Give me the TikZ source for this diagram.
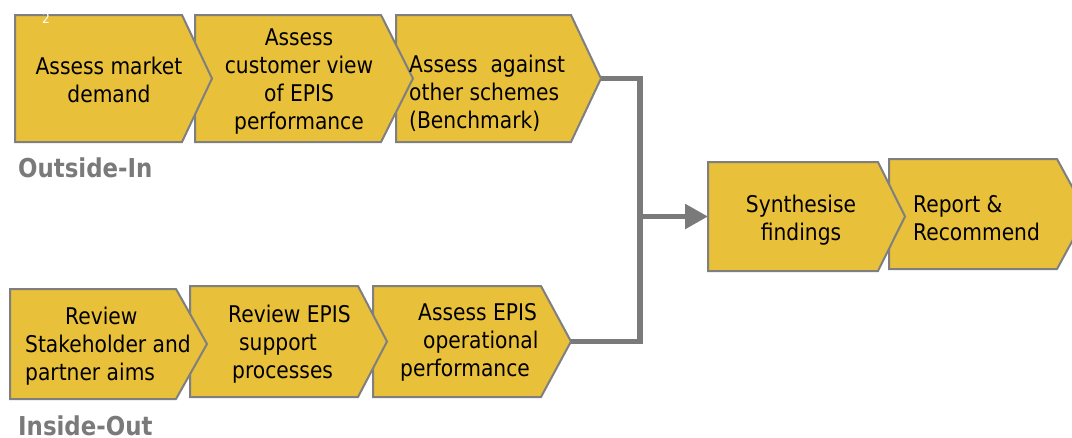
\documentclass[tikz,border=0pt]{standalone}
\usepackage{fontspec}
\setmainfont{DejaVu Sans}[FakeStretch=0.88]
\usetikzlibrary{arrows.meta}
\definecolor{boxfill}{RGB}{233,192,58}
\definecolor{edgegray}{RGB}{127,127,127}
\definecolor{linegray}{RGB}{122,122,122}
\newcommand\penta[6]{%
  \draw[boxshape] (#2,#3) -- (#5,#3) -- (#6,{(#3+#4)/2}) -- (#5,#4) -- (#2,#4) -- cycle;
  \coordinate (#1) at (#6,{(#3+#4)/2});
  \coordinate (#1-w) at (#2,{(#3+#4)/2});}
\newcommand\fl{\rule{0pt}{18pt}}
\tikzset{
  boxshape/.style={fill=boxfill, draw=edgegray, line width=2pt, line join=miter},
  conn/.style={draw=linegray, line width=5.5pt, line join=miter},
  txt/.style={inner sep=0pt, font=\fontsize{23pt}{28pt}\selectfont, text=black},
  lbl/.style={inner sep=0pt, font=\fontsize{26pt}{30pt}\selectfont\bfseries, text=linegray, anchor=base west}
}
\begin{document}
\begin{tikzpicture}[x=1pt,y=-1pt]
\useasboundingbox (0,0) rectangle (1072,437);
\fill[white] (0,0) rectangle (1072,437);
\clip (0,0) rectangle (1072,437);
% connector junctions
\coordinate (jt) at (640,78.5);
\coordinate (jb) at (640,341.5);
\coordinate (j) at (640,216.5);
% boxes (later ones first so earlier tips lie on top)
\penta{b3}{396}{15}{142}{571}{601}
\penta{b2}{195}{15}{142}{381}{413}
\penta{b1}{15}{15}{142}{182}{212}
\penta{b6}{373}{286}{397}{541}{571}
\penta{b5}{190}{286}{397}{358}{387}
\penta{b4}{10}{289}{399}{176}{207}
\penta{b8}{889}{159}{269}{1057}{1087}
\penta{b7}{708}{162}{271}{878}{905}
% connectors
\draw[conn] (b3) -- (jt) -- (jb) -- (b6);
\draw[conn, -{Triangle[length=23pt,width=24pt]}] (j) -- (b7-w);
% texts
\node[txt, align=center, anchor=north] (t1) at (109,56) {\fl Assess market\\demand};
\node[txt, align=center, anchor=north] (t2) at (299,27) {\fl Assess\\customer view\\of EPIS\\performance};
\node[txt, align=left, anchor=north west] (t3) at (409,54) {\fl Assess\ \ against\\other schemes\\(Benchmark)};
\node[txt, align=left, anchor=north west] (t4) at (25,306) {\fl\hspace*{40pt}Review\\Stakeholder and\\partner aims};
\node[txt, align=left, anchor=north west] (t5) at (228,304) {\fl Review EPIS\\\hspace*{11pt}support\\\hspace*{4pt}processes};
\node[txt, align=left, anchor=north west] (t6) at (400,302) {\fl\hspace*{18pt}Assess EPIS\\\hspace*{23pt}operational\\performance};
\node[txt, align=center, anchor=north] (t7) at (801,194) {\fl Synthesise\\findings};
\node[txt, align=left, anchor=north west] (t8) at (913,194) {\fl Report \&\\Recommend};
\node[inner sep=0pt, font=\fontsize{14pt}{16pt}\selectfont, text=white] (num) at (46,18) {2};
\node[lbl] (oi) at (18,177) {Outside-In};
\node[lbl] (io) at (18,435) {Inside-Out};
\end{tikzpicture}
\end{document}
